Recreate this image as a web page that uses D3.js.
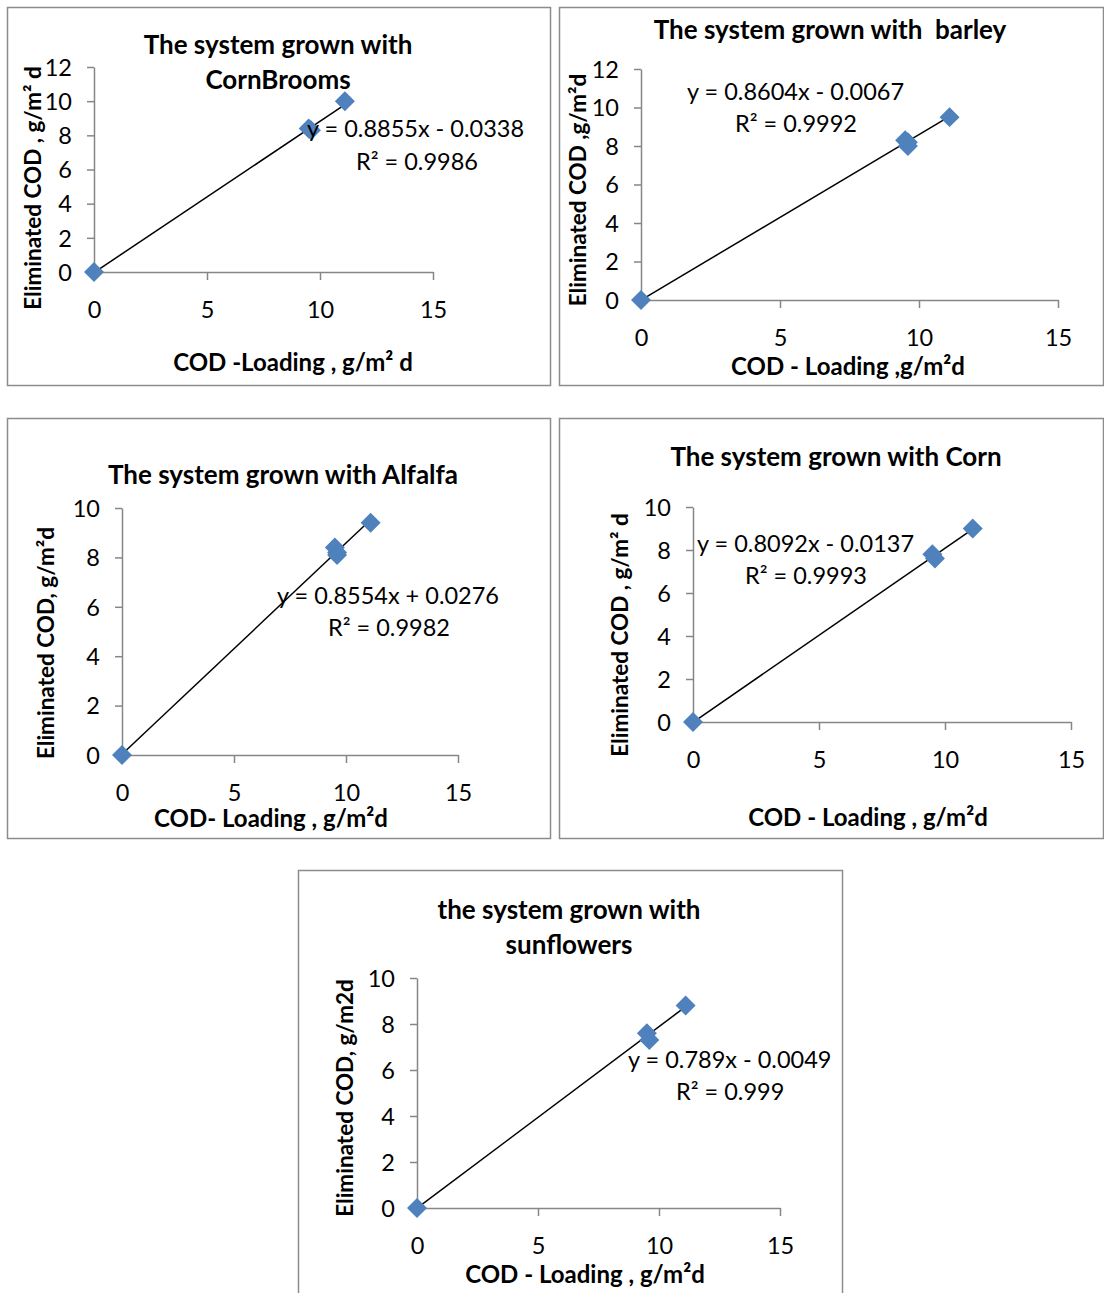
<!DOCTYPE html>
<html>
<head>
<meta charset="utf-8">
<script src="https://cdn.jsdelivr.net/npm/d3@7"></script>
<style>
  html, body { margin: 0; padding: 0; background: #fff; }
  svg { display: block; font-family: Lato, "Open Sans", sans-serif; }
  text { white-space: pre; }
</style>
</head>
<body>
<svg id="chart" width="1104" height="1293"></svg>
<script>
// COD removal vs COD loading for five planted systems
const titles = [
  ["The system grown with", "CornBrooms"],
  ["The system grown with  barley"],
  ["The system grown with Alfalfa"],
  ["The system grown with Corn"],
  ["the system grown with", "sunflowers"]
];
const xLabels = [
  "COD -Loading , g/m\u00B2 d",
  "COD - Loading ,g/m\u00B2d",
  "COD- Loading , g/m\u00B2d",
  "COD - Loading , g/m\u00B2d",
  "COD - Loading , g/m\u00B2d"
];
const yLabels = [
  "Eliminated COD , g/m\u00B2 d",
  "Eliminated COD ,g/m\u00B2d",
  "Eliminated COD, g/m\u00B2d",
  "Eliminated COD , g/m\u00B2 d",
  "Eliminated COD, g/m2d"
];
// measured loading (x) and eliminated COD (y), g/m2 d
const loadings = [
  [0, 9.5, 9.6, 11.1],
  [0, 9.5, 9.6, 9.6, 11.1],
  [0, 9.5, 9.6, 9.6, 11.1],
  [0, 9.5, 9.6, 11.1],
  [0, 9.5, 9.6, 11.1]
];
const eliminated = [
  [0, 8.4, 8.3, 10.0],
  [0, 8.3, 8.0, 8.2, 9.5],
  [0, 8.4, 8.2, 8.1, 9.4],
  [0, 7.8, 7.6, 9.0],
  [0, 7.6, 7.3, 8.8]
];
// linear trendlines
const slopes = [0.8855, 0.8604, 0.8554, 0.8092, 0.789];
const intercepts = [-0.0338, -0.0067, 0.0276, -0.0137, -0.0049];
const rSquared = [0.9986, 0.9992, 0.9982, 0.9993, 0.999];
const xTicks = [0, 5, 10, 15];
const yMax = [12, 12, 10, 10, 10];

// panel frames and plot areas (pixels)
const layout = [
  { frame: [7, 7, 543, 378], plot: [94, 433, 272, 67], title: [278, [54, 89]], yl: [33, 188], xl: [293, 371], eq: [307, 137], r2: [356, 170] },
  { frame: [559, 7, 544, 378], plot: [641, 1058, 300, 69], title: [830, [39]], yl: [578, 190], xl: [848, 375], eq: [687, 100], r2: [735, 132] },
  { frame: [7, 418, 543, 420], plot: [122, 458, 755, 508], title: [283, [484]], yl: [46, 643], xl: [271, 827], eq: [277, 604], r2: [328, 636] },
  { frame: [559, 418, 544, 420], plot: [693, 1071, 722, 507], title: [836, [466]], yl: [620, 635], xl: [868, 826], eq: [697, 552], r2: [745, 584] },
  { frame: [298, 870, 544, 430], plot: [417, 780, 1208, 978], title: [569, [919, 954]], yl: [345, 1098], xl: [585, 1283], eq: [628, 1068], r2: [676, 1100] }
];

const svg = d3.select("#chart");
const axisColor = "#868686";
const markerColor = "#4F81BD";
const diamond = d3.symbol().type(d3.symbolSquare).size(200);

layout.forEach((L, i) => {
  const g = svg.append("g");
  g.append("rect")
    .attr("x", L.frame[0] + 0.5).attr("y", L.frame[1] + 0.5)
    .attr("width", L.frame[2]).attr("height", L.frame[3])
    .attr("fill", "#fff").attr("stroke", "#8c8c8c").attr("stroke-width", 1.5);

  const x = d3.scaleLinear().domain([0, 15]).range([L.plot[0], L.plot[1]]);
  const y = d3.scaleLinear().domain([0, yMax[i]]).range([L.plot[2], L.plot[3]]);

  // x axis
  const xa = g.append("g").attr("transform", `translate(0,${L.plot[2]})`)
    .call(d3.axisBottom(x).tickValues(xTicks).tickSize(8).tickPadding(21).tickSizeOuter(0));
  // y axis
  const ya = g.append("g").attr("transform", `translate(${L.plot[0]},0)`)
    .call(d3.axisLeft(y).ticks(yMax[i] / 2).tickSize(7).tickPadding(15).tickSizeOuter(0));
  [xa, ya].forEach(a => {
    a.select(".domain").attr("stroke", axisColor).attr("stroke-width", 1.5);
    a.selectAll(".tick line").attr("stroke", axisColor).attr("stroke-width", 1.5);
    a.selectAll(".tick text").attr("fill", "#000").attr("font-size", 23.5)
      .attr("font-family", "Lato, sans-serif");
  });
  ya.selectAll(".tick text").attr("dy", "0.35em");

  // trendline over the loading range
  const xmax = d3.max(loadings[i]);
  g.append("line")
    .attr("x1", x(0)).attr("y1", y(intercepts[i]))
    .attr("x2", x(xmax)).attr("y2", y(slopes[i] * xmax + intercepts[i]))
    .attr("stroke", "#000").attr("stroke-width", 1.5);

  // measured points
  g.selectAll("path.pt").data(loadings[i].map((v, k) => [v, eliminated[i][k]]))
    .enter().append("path").attr("class", "pt")
    .attr("d", diamond)
    .attr("transform", d => `translate(${x(d[0])},${y(d[1])}) rotate(45)`)
    .attr("fill", markerColor);

  // titles
  titles[i].forEach((t, k) => {
    g.append("text").attr("x", L.title[0]).attr("y", L.title[1][k])
      .attr("text-anchor", "middle").attr("font-weight", "bold").attr("font-size", 26)
      .text(t);
  });
  // axis titles
  g.append("text").attr("x", L.xl[0]).attr("y", L.xl[1])
    .attr("text-anchor", "middle").attr("font-weight", "bold").attr("font-size", 24)
    .text(xLabels[i]);
  g.append("text")
    .attr("transform", `translate(${L.yl[0] + 8},${L.yl[1]}) rotate(-90)`)
    .attr("text-anchor", "middle").attr("font-weight", "bold").attr("font-size", 22.5)
    .text(yLabels[i]);

  // trendline equation and R²
  const b = intercepts[i];
  const eq = `y = ${slopes[i]}x ${b < 0 ? "-" : "+"} ${Math.abs(b)}`;
  g.append("text").attr("x", L.eq[0]).attr("y", L.eq[1]).attr("font-size", 23.5).text(eq);
  g.append("text").attr("x", L.r2[0]).attr("y", L.r2[1]).attr("font-size", 23.5)
    .text(`R\u00B2 = ${rSquared[i]}`);
});
</script>
</body>
</html>
